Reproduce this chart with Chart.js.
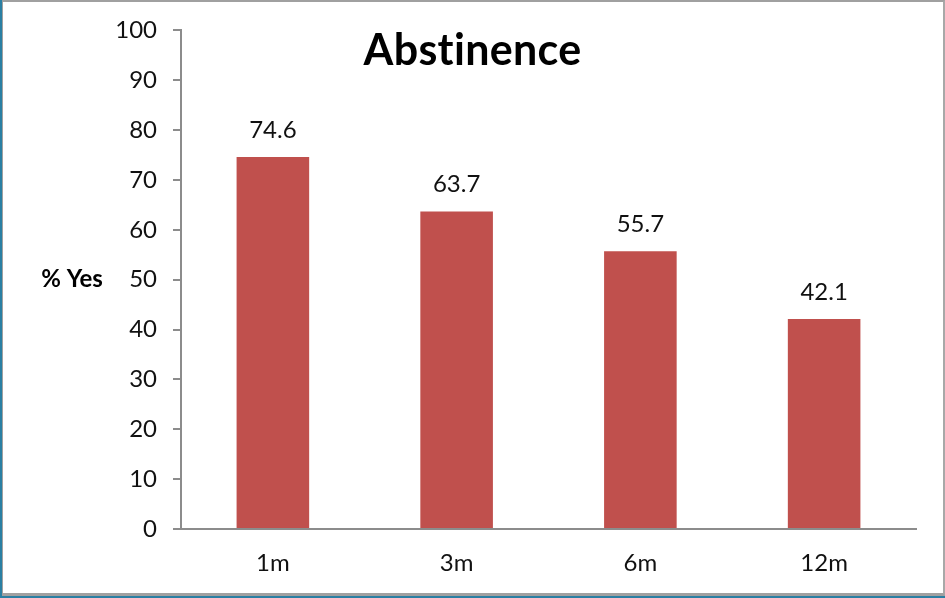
<!DOCTYPE html>
<html>
<head>
<meta charset="utf-8">
<script src="https://cdn.jsdelivr.net/npm/chart.js@4/dist/chart.umd.min.js"></script>
<style>
    body { margin: 0; background: #fff; }
    #wrap { position: relative; width: 945px; height: 598px; overflow: hidden; }
    #chart { position: absolute; left: 0; top: 0; }
    #frame {
        position: absolute; left: 0; top: 0; width: 945px; height: 598px;
        box-sizing: border-box; pointer-events: none;
        border-left: 2px solid #2a7fa3; border-bottom: 2px solid #2a7fa3;
    }
    #frame div {
        position: absolute; left: 0; top: 0; right: 0; bottom: 0;
        border-top: 2px solid #a0a0a0; border-right: 2px solid #a8a8a8;
        border-left: 1px solid #a0a0a0; border-bottom: 3px solid #a0a0a0;
    }
</style>
</head>
<body>
<div id="wrap">
    <canvas id="chart" width="945" height="598"></canvas>
    <div id="frame"><div></div></div>
</div>
<script>
// Data
const categories = ['1m', '3m', '6m', '12m'];
const yesPercent = [74.6, 63.7, 55.7, 42.1];
const yTicks = [0, 10, 20, 30, 40, 50, 60, 70, 80, 90, 100];

const chartTitle = 'Abstinence';
const axisLabel = '% Yes';
const barColor = '#C0504D';
const axisColor = '#8c8c8c';

Chart.defaults.font.family = 'Lato';
Chart.defaults.color = '#111';

// Title, axis label and the numbers above the bars
const extrasPlugin = {
    id: 'extras',
    afterDatasetsDraw(chart) {
        const ctx = chart.ctx;
        const y = chart.scales.y;
        ctx.save();
        ctx.fillStyle = '#000';
        ctx.textAlign = 'center';
        ctx.textBaseline = 'middle';

        // small spacing keeps Lato from joining "ti"
        ctx.letterSpacing = '0.3px';
        ctx.font = 'bold 43px Lato';
        ctx.fillText(chartTitle, chart.width / 2, 51);
        ctx.letterSpacing = '0px';

        ctx.font = 'bold 24px Lato';
        ctx.fillText(axisLabel, 72, y.getPixelForValue(50));

        ctx.font = '24px Lato';
        ctx.fillStyle = '#111';
        chart.getDatasetMeta(0).data.forEach((bar, i) => {
            ctx.fillText(yesPercent[i].toFixed(1), bar.x, bar.y - 27);
        });
        ctx.restore();
    }
};

new Chart(document.getElementById('chart'), {
    type: 'bar',
    data: {
        labels: categories,
        datasets: [{
            data: yesPercent,
            backgroundColor: barColor,
            borderWidth: 0,
            categoryPercentage: 1,
            barPercentage: 0.395
        }]
    },
    options: {
        responsive: false,
        animation: false,
        layout: { padding: { top: 29, right: 29, left: 0, bottom: 0 } },
        plugins: {
            legend: { display: false },
            tooltip: { enabled: false }
        },
        scales: {
            x: {
                grid: { drawOnChartArea: false, drawTicks: false },
                border: { color: axisColor, width: 2 },
                ticks: { font: { size: 24 }, padding: 20, color: '#111' },
                afterFit: s => { s.height = 69; }
            },
            y: {
                min: 0,
                max: 100,
                afterBuildTicks: s => { s.ticks = yTicks.map(v => ({ value: v })); },
                grid: { drawOnChartArea: false, drawTicks: true, tickLength: 8, color: axisColor, lineWidth: 2 },
                border: { color: axisColor, width: 2 },
                ticks: { font: { size: 24 }, padding: 16, color: '#111' },
                afterFit: s => { s.width = 181; }
            }
        }
    },
    plugins: [extrasPlugin]
});
</script>
</body>
</html>
